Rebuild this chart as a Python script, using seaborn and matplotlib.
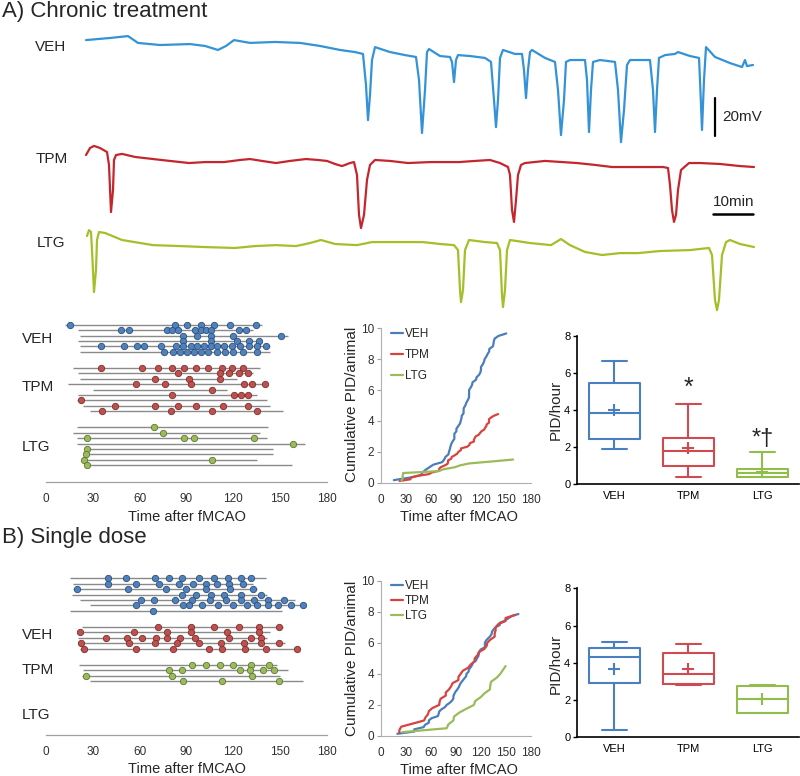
import numpy as np
import pandas as pd
import matplotlib
matplotlib.use("Agg")
import matplotlib.pyplot as plt
import seaborn as sns

# ------------------------------------------------------------------ data
groups = ["VEH", "TPM", "LTG"]

# --- example recordings (time in min, potential in mV relative to baseline)
veh_t = [0.25, 6.25, 10.75, 13.25, 18.75, 26.25, 30, 33.25, 35.25, 37.25,
         41.25, 47.5, 53.75, 58.75, 63.75, 67.5, 69.5, 70.25, 70.75, 71.25,
         71.75, 72.5, 76.25, 80, 82.75, 83.5, 84.25, 85, 85.5, 86,
         88.75, 91.25, 91.75, 92.25, 92.75, 93.25, 96.25, 100, 101.5, 102.25,
         102.75, 103.25, 103.75, 104.5, 107.5, 109.25, 109.75, 110.25, 110.75, 111.25,
         111.75, 115, 117.5, 118.25, 119, 119.75, 120.25, 121.25, 125, 125.5,
         126, 126.5, 127, 128.75, 132.5, 133.25, 134, 134.75, 135.5, 136.25,
         141.25, 142, 142.5, 143, 143.5, 145, 147.5, 148.25, 151.25, 153.5,
         153.75, 154.25, 154.75, 155.25, 157.5, 161.25, 164.25, 165, 165.5, 167]
veh_mv = [2.6, 3.7, 4.7, 1.1, 0.0, 0.5, -0.5, -2.6, -0.5, 2.6,
          1.1, 1.6, 1.1, -0.5, -2.6, -3.7, -4.7, -21.1, -39.5, -26.3,
          -7.9, -1.1, -3.7, -5.3, -6.3, -18.4, -46.3, -23.7, -3.7, -2.1,
          -5.8, -6.3, -8.9, -19.5, -7.9, -5.3, -5.8, -6.8, -8.9, -28.9,
          -43.2, -28.9, -6.8, -2.6, -4.7, -4.7, -13.2, -27.9, -13.2, -3.7,
          -2.6, -6.8, -8.9, -23.7, -47.4, -28.9, -8.9, -7.9, -7.9, -18.4,
          -45.8, -23.7, -8.9, -7.9, -8.9, -23.7, -51.1, -34.2, -10.5, -7.9,
          -7.9, -23.7, -45.8, -23.7, -6.8, -5.3, -4.7, -3.7, -5.8, -6.8,
          -18.4, -44.7, -18.4, -1.1, -6.3, -9.5, -11.6, -7.9, -11.1, -10.5]

tpm_t = [0.25, 1.25, 2.25, 3.75, 5.5, 6, 6.5, 7, 7.25, 7.75,
         9.25, 12.5, 17, 21.25, 26, 30, 34.75, 38.75, 41.25, 44.25,
         47.75, 51.25, 55.25, 58.25, 60.5, 62.5, 64.25, 66.25, 67.25, 68,
         68.5, 69, 69.75, 70.5, 71.25, 72.5, 76.25, 80.75, 86.25, 93.5,
         97.5, 101.25, 103.75, 105.75, 106.25, 106.75, 107.25, 107.75, 108.25, 109,
         110, 115, 123, 127.5, 131.75, 138.75, 144.5, 145.75, 146.25, 146.75,
         147.25, 147.75, 148.25, 149, 151, 153.75, 158.75, 163.75, 167.25]
tpm_mv = [2.6, 6.3, 7.4, 6.3, 4.2, -2.6, -27.4, -15.8, 0.0, 2.6,
          3.2, 1.6, 0.5, -0.5, -1.6, -1.1, -1.1, 0.0, 0.5, -0.5,
          -1.6, -0.5, 0.5, 0.0, -0.5, -2.1, -3.2, -1.6, -1.1, -7.9,
          -28.9, -35.8, -28.9, -10.5, -2.6, 0.0, -0.5, -1.6, -1.1, -1.1,
          -0.5, 0.0, -1.6, -3.7, -7.9, -26.3, -32.6, -21.1, -7.9, -2.6,
          -1.6, -0.5, -1.6, -2.6, -3.7, -3.7, -3.7, -4.2, -13.2, -26.3,
          -32.6, -28.9, -15.8, -5.3, -1.6, -1.6, -2.1, -3.2, -3.7]

ltg_t = [0.5, 1, 1.5, 1.75, 2.25, 2.75, 3, 3.5, 5, 9.25,
         17, 23.75, 29.75, 37.5, 42.5, 47.75, 52.75, 56.25, 59, 62.5,
         68, 71.75, 78.75, 84.5, 88.75, 92.25, 93.25, 93.75, 94, 94.5,
         95, 96, 100, 103, 103.75, 104.25, 104.5, 105, 105.5, 106.25,
         111.25, 116.5, 119, 121.25, 125, 129.25, 133.75, 138.25, 143.75, 151.25,
         156, 156.75, 157.5, 158, 158.5, 159.25, 160.25, 161.25, 163.75, 167.25]
ltg_mv = [3.7, 6.8, 5.8, -3.7, -25.8, -14.2, 1.6, 5.8, 5.3, 1.6,
          -1.1, -1.6, -2.1, -2.6, -1.6, -1.1, -1.6, 0.0, 1.6, -0.5,
          -1.1, 0.5, 0.5, 0.5, -0.5, -1.1, -3.7, -24.7, -31.1, -24.7,
          -3.7, 1.6, 0.5, 0.0, -3.7, -27.4, -33.7, -24.7, -3.7, 1.6,
          0.0, -1.1, 2.1, -1.1, -4.7, -6.3, -5.3, -5.3, -4.2, -3.7,
          -2.6, -6.3, -30.0, -35.3, -30.0, -6.3, 0.5, 1.6, -0.5, -2.1]

scalebar_mv = 20
scalebar_min = 10

# --- A) chronic treatment: recording span and PID onsets per animal (min)
a_veh_start = [12.2, 20.7, 21.8, 20.7, 21.8, 21.8]
a_veh_end = [138.2, 132.8, 155.2, 137.1, 143.5, 143.5]
a_veh_events = [
    [15.4, 82.6, 90.5, 99.1, 107.6, 117.9, 134.3],
    [47.8, 53.4, 77.3, 80.9, 84.3, 95.7, 99.3, 102.3, 105.7, 123.6, 127.9],
    [88.0, 96.5, 105.7, 120.0, 150.3],
    [88.0, 105.7, 122.1, 130.0, 136.4],
    [35.2, 50.0, 58.1, 62.8, 73.5, 83.3, 88.0, 92.7, 96.9, 101.2, 105.5,
     109.8, 114.0, 119.4, 124.3, 129.8, 135.4, 140.7],
    [75.8, 81.6, 85.8, 90.5, 94.8, 99.1, 104.0, 109.3, 114.7, 120.0, 126.4, 135.0],
]
a_tpm_start = [17.5, 20.7, 21.8, 14.3, 30.3, 20.7, 19.6, 23.9, 28.2]
a_tpm_end = [137.1, 132.8, 122.1, 141.4, 115.7, 135.0, 141.4, 143.5, 152.0]
a_tpm_events = [
    [35.2, 61.3, 71.5, 80.5, 88.6, 96.1, 103.6, 112.5, 118.9, 126.4],
    [84.8, 111.5, 117.4, 123.9, 129.6],
    [69.8, 91.6, 111.5],
    [57.4, 76.2, 92.9, 126.8, 132.0, 140.5],
    [106.1],
    [80.5, 120.6, 124.9, 129.6],
    [22.4],
    [44.4, 69.8, 84.3, 95.9, 113.6, 129.6],
    [36.1, 79.9, 106.6, 135.4],
]
a_ltg_start = [19.6, 17.5, 19.6, 19.6, 26.1, 26.1, 25.0, 26.1]
a_ltg_end = [142.4, 137.1, 141.4, 165.9, 145.6, 145.6, 135.0, 157.4]
a_ltg_events = [
    [69.4], [75.2], [26.1, 88.4, 95.0, 133.2], [158.4],
    [26.1], [25.6], [24.6, 106.1], [26.5],
]

# --- B) single dose
b_veh_start = [15.4, 17.5, 17.5, 16.4, 21.8, 28.2, 15.4]
b_veh_end = [140.9, 132.8, 135.0, 141.4, 159.5, 164.9, 151.0]
b_veh_events = [
    [39.9, 51.2, 69.8, 78.8, 86.9, 98.0, 107.6, 116.8, 124.7, 131.1],
    [39.9, 57.4, 72.4, 85.4, 94.4, 102.3, 109.3, 117.4, 126.0],
    [19.6, 52.7, 76.7, 89.5, 102.5, 117.9, 132.8],
    [86.9, 95.9, 105.5, 114.0, 124.7, 137.5],
    [60.6, 69.2, 82.6, 93.3, 105.1, 115.1, 124.7, 133.2, 142.4, 152.5],
    [57.4, 88.0, 91.6, 100.1, 110.4, 119.6, 128.5, 135.0, 142.4, 148.8, 156.7, 164.9],
    [68.3],
]
b_tpm_start = [22.8, 20.7, 20.7, 20.7, 21.8]
b_tpm_end = [152.0, 143.5, 141.4, 153.1, 161.6]
b_tpm_events = [
    [71.5, 92.9, 107.6, 123.9, 136.4, 149.5],
    [21.8, 56.4, 77.7, 92.9, 115.7, 136.4],
    [38.2, 51.7, 61.7, 70.3, 77.7, 85.8, 95.5, 117.4, 131.1, 137.5],
    [22.2, 53.4, 69.8, 84.1, 98.2, 112.1, 126.8, 137.5, 149.3],
    [24.3, 57.4, 81.6, 104.6, 112.5, 127.5, 140.7, 161.0],
]
b_ltg_start = [21.4, 23.9, 22.8, 28.2]
b_ltg_end = [147.8, 155.2, 149.9, 164.9]
b_ltg_events = [
    [93.7, 102.3, 111.5, 119.6, 131.1, 143.1],
    [78.8, 86.9, 124.3, 130.7, 138.8, 146.3],
    [25.6, 80.9, 132.2],
    [87.6, 113.0, 149.5],
]

# --- PID/hour box summaries
box_a_whislo = [1.90, 0.38, 0.38]
box_a_q1 = [2.43, 0.99, 0.38]
box_a_med = [3.81, 1.80, 0.62]
box_a_q3 = [5.43, 2.50, 0.79]
box_a_whishi = [6.62, 4.31, 1.73]
box_a_mean = [3.99, 1.96, 0.66]

box_b_whislo = [0.39, 2.79, 1.30]
box_b_q1 = [2.90, 2.84, 1.32]
box_b_med = [4.29, 3.40, 2.04]
box_b_q3 = [4.79, 4.54, 2.77]
box_b_whishi = [5.10, 5.00, 2.80]
box_b_mean = [3.68, 3.65, 2.04]

# ------------------------------------------------------------------ style
sns.set_theme(style="white")
plt.rcParams["font.family"] = ["Liberation Sans", "DejaVu Sans"]

W, H = 800, 776
fig = plt.figure(figsize=(W / 100, H / 100), dpi=100)


def fx(px):
    return px / W


def fy(py):
    return 1 - py / H


def add_ax(x0, y0, x1, y1):
    return fig.add_axes([fx(x0), fy(y1), (x1 - x0) / W, (y1 - y0) / H])


def place_xlabel(ax, text, px, py, fs):
    ax.set_xlabel(text, fontsize=fs)
    ax.xaxis.set_label_coords(fx(px), fy(py), transform=fig.transFigure)
    ax.xaxis.label.set_va("center")


def place_ylabel(ax, text, px, py, fs):
    ax.set_ylabel(text, fontsize=fs)
    ax.yaxis.set_label_coords(fx(px), fy(py), transform=fig.transFigure)
    ax.yaxis.label.set_va("center")


trace_col = {"VEH": "#3493d6", "TPM": "#c4262e", "LTG": "#a5bf28"}
dot_fill = {"VEH": "#4f81bd", "TPM": "#c0504d", "LTG": "#9bbb59"}
dot_edge = {"VEH": "#2f4f78", "TPM": "#7a302e", "LTG": "#5f7536"}
cum_col = {"VEH": "#4a7ebb", "TPM": "#d8433f", "LTG": "#9bbb59"}
box_col = {"VEH": "#4a7fc1", "TPM": "#d24a50", "LTG": "#93bd4a"}

# ------------------------------------------------------------------ titles
fig.text(fx(2), fy(12), "A) Chronic treatment", fontsize=16, va="center", ha="left")
fig.text(fx(2), fy(538), "B) Single dose", fontsize=16, va="center", ha="left")

# ------------------------------------------------------------------ traces
ax_tr = add_ax(85, 30, 755, 320)
traces = {"VEH": (veh_t, veh_mv), "TPM": (tpm_t, tpm_mv), "LTG": (ltg_t, ltg_mv)}
trace_offset = {"VEH": 0.0, "TPM": -60.5, "LTG": -104.2}
for g in groups:
    t, mv = traces[g]
    sns.lineplot(x=t, y=np.asarray(mv) + trace_offset[g], ax=ax_tr,
                 color=trace_col[g], lw=1.6, estimator=None, sort=False)
ax_tr.set_xlim(0, 167.5)
ax_tr.set_ylim(-144.7, 7.9)
ax_tr.axis("off")
# scale bars
ax_tr.plot([157.5, 157.5], [-28.0, -28.0 - scalebar_mv], color="black", lw=1.6)
ax_tr.text(159.3, -38.0, f"{scalebar_mv}mV", fontsize=11, va="center", ha="left")
ax_tr.plot([157.0, 157.0 + scalebar_min], [-89.1, -89.1], color="black", lw=1.8)
ax_tr.text(162.1, -82.6, f"{scalebar_min}min", fontsize=11, va="center", ha="center")

fig.text(fx(35), fy(47), "VEH", fontsize=11, va="center", ha="left")
fig.text(fx(36), fy(159), "TPM", fontsize=11, va="center", ha="left")
fig.text(fx(37), fy(243), "LTG", fontsize=11, va="center", ha="left")


# ------------------------------------------------------------------ raster
def draw_raster(ax, data, tops, spacing, y_bottom, y_top):
    for gi, g in enumerate(groups):
        starts, ends, events = data[g]
        rows = []
        for ri, (s, e, ev) in enumerate(zip(starts, ends, events)):
            y = tops[gi] + ri * spacing[gi]
            ax.hlines(y, s, e, color="#8a8a8a", lw=1.0, zorder=1)
            for tt in ev:
                rows.append((tt, y))
        df = pd.DataFrame(rows, columns=["t", "y"])
        sns.scatterplot(data=df, x="t", y="y", ax=ax, color=dot_fill[g],
                        edgecolor=dot_edge[g], linewidth=0.6, s=21, zorder=3,
                        legend=False)
    ax.set_xlim(0, 180)
    ax.set_ylim(y_bottom, y_top)
    ax.set_xticks(range(0, 181, 30))
    ax.set_yticks([])
    ax.tick_params(axis="x", length=0, pad=8, labelsize=8.5, labelcolor="#303030")
    for s in ["top", "left", "right"]:
        ax.spines[s].set_visible(False)
    ax.spines["bottom"].set_color("#a0a0a0")
    ax.spines["bottom"].set_linewidth(0.9)
    ax.set_ylabel("")


ax_ra = add_ax(46, 318, 327, 482)
draw_raster(ax_ra,
            {"VEH": (a_veh_start, a_veh_end, a_veh_events),
             "TPM": (a_tpm_start, a_tpm_end, a_tpm_events),
             "LTG": (a_ltg_start, a_ltg_end, a_ltg_events)},
            tops=[324.7, 367.7, 427.3], spacing=[5.4, 5.45, 5.43],
            y_bottom=482, y_top=318)
place_xlabel(ax_ra, "Time after fMCAO", 187, 517, 10.5)
for g, py in zip(groups, [339, 387, 447]):
    fig.text(fx(22), fy(py), g, fontsize=11, va="center", ha="left")

ax_rb = add_ax(46, 570, 327, 735)
draw_raster(ax_rb,
            {"VEH": (b_veh_start, b_veh_end, b_veh_events),
             "TPM": (b_tpm_start, b_tpm_end, b_tpm_events),
             "LTG": (b_ltg_start, b_ltg_end, b_ltg_events)},
            tops=[578.3, 626.7, 665.0], spacing=[5.4, 5.5, 5.33],
            y_bottom=735, y_top=570)
place_xlabel(ax_rb, "Time after fMCAO", 187, 769, 10.5)
for g, py in zip(groups, [635, 670, 715]):
    fig.text(fx(22), fy(py), g, fontsize=11, va="center", ha="left")


# ------------------------------------------------------------------ cumulative
def draw_cum(ax, data, leg_top, leg_spacing):
    for g in groups:
        events = data[g]
        n_animals = len(events)
        times = np.sort(np.concatenate([np.asarray(e, float) for e in events]))
        cum = np.arange(1, len(times) + 1) / n_animals
        sns.lineplot(x=times, y=cum, ax=ax, color=cum_col[g], lw=1.6,
                     estimator=None, sort=False, label=g)
    ax.set_xlim(0, 180)
    ax.set_ylim(0, 10)
    ax.set_xticks(range(0, 181, 30))
    ax.set_yticks(range(0, 11, 2))
    ax.tick_params(axis="x", length=0, pad=8, labelsize=8.5, labelcolor="#303030")
    ax.tick_params(axis="y", length=3, width=0.8, color="#a0a0a0", pad=2,
                   labelsize=8.5, labelcolor="#303030", left=True)
    for s in ["top", "right"]:
        ax.spines[s].set_visible(False)
    for s in ["left", "bottom"]:
        ax.spines[s].set_color("#b0b0b0")
        ax.spines[s].set_linewidth(0.8)
    ax.legend(loc="upper left", bbox_to_anchor=(fx(391), fy(leg_top)),
              bbox_transform=fig.transFigure, frameon=False, fontsize=8.5,
              handlelength=1.0, handletextpad=0.15, labelspacing=leg_spacing,
              borderaxespad=0, borderpad=0)


ax_ca = add_ax(381, 328.3, 531, 482.7)
draw_cum(ax_ca, {"VEH": a_veh_events, "TPM": a_tpm_events, "LTG": a_ltg_events},
         leg_top=328, leg_spacing=0.75)
place_xlabel(ax_ca, "Time after fMCAO", 459, 517, 10.5)
place_ylabel(ax_ca, "Cumulative PID/animal", 352, 404, 11)

ax_cb = add_ax(381, 580.7, 531, 736)
draw_cum(ax_cb, {"VEH": b_veh_events, "TPM": b_tpm_events, "LTG": b_ltg_events},
         leg_top=580, leg_spacing=0.25)
place_xlabel(ax_cb, "Time after fMCAO", 459, 770, 10.5)
place_ylabel(ax_cb, "Cumulative PID/animal", 352, 658, 11)


# ------------------------------------------------------------------ boxes
def draw_box(ax, whislo, q1, med, q3, whishi, mean):
    stats = []
    for i, g in enumerate(groups):
        stats.append(dict(label=g, whislo=whislo[i], q1=q1[i], med=med[i],
                          q3=q3[i], whishi=whishi[i], mean=mean[i], fliers=[]))
    bp = ax.bxp(stats, positions=[0, 1, 2], widths=0.685, capwidths=0.33,
                showmeans=True, showfliers=False, manage_ticks=False)
    for i, g in enumerate(groups):
        c = box_col[g]
        bp["boxes"][i].set(color=c, lw=1.5)
        bp["medians"][i].set(color=c, lw=1.5)
        for w in bp["whiskers"][2 * i:2 * i + 2]:
            w.set(color=c, lw=1.5)
        for cp in bp["caps"][2 * i:2 * i + 2]:
            cp.set(color=c, lw=1.5)
        bp["means"][i].set(marker="+", markeredgecolor=c, markerfacecolor=c,
                           markersize=9, markeredgewidth=1.5)
    ax.set_xlim(-0.5, 2.5)
    ax.set_ylim(0, 8)
    ax.set_xticks([0, 1, 2])
    ax.set_xticklabels(groups)
    ax.set_yticks(range(0, 9, 2))
    ax.tick_params(axis="x", length=0, pad=5, labelsize=8, labelcolor="black")
    ax.tick_params(axis="y", length=3, width=1.0, color="black", pad=2,
                   labelsize=8, labelcolor="black", left=True)
    for s in ["top", "right"]:
        ax.spines[s].set_visible(False)
    for s in ["left", "bottom"]:
        ax.spines[s].set_color("black")
        ax.spines[s].set_linewidth(1.2)


ax_ba = add_ax(577.3, 335.7, 799.3, 484)
draw_box(ax_ba, box_a_whislo, box_a_q1, box_a_med, box_a_q3, box_a_whishi, box_a_mean)
place_ylabel(ax_ba, "PID/hour", 556, 410, 11)
ax_ba.text(1, 5.2, "*", fontsize=18, ha="center", va="center")
ax_ba.text(2, 2.45, "*†", fontsize=17, ha="center", va="center")

ax_bb = add_ax(577.3, 588.3, 799.3, 737.3)
draw_box(ax_bb, box_b_whislo, box_b_q1, box_b_med, box_b_q3, box_b_whishi, box_b_mean)
place_ylabel(ax_bb, "PID/hour", 556, 664, 11)

fig.savefig("out.png", dpi=100)
